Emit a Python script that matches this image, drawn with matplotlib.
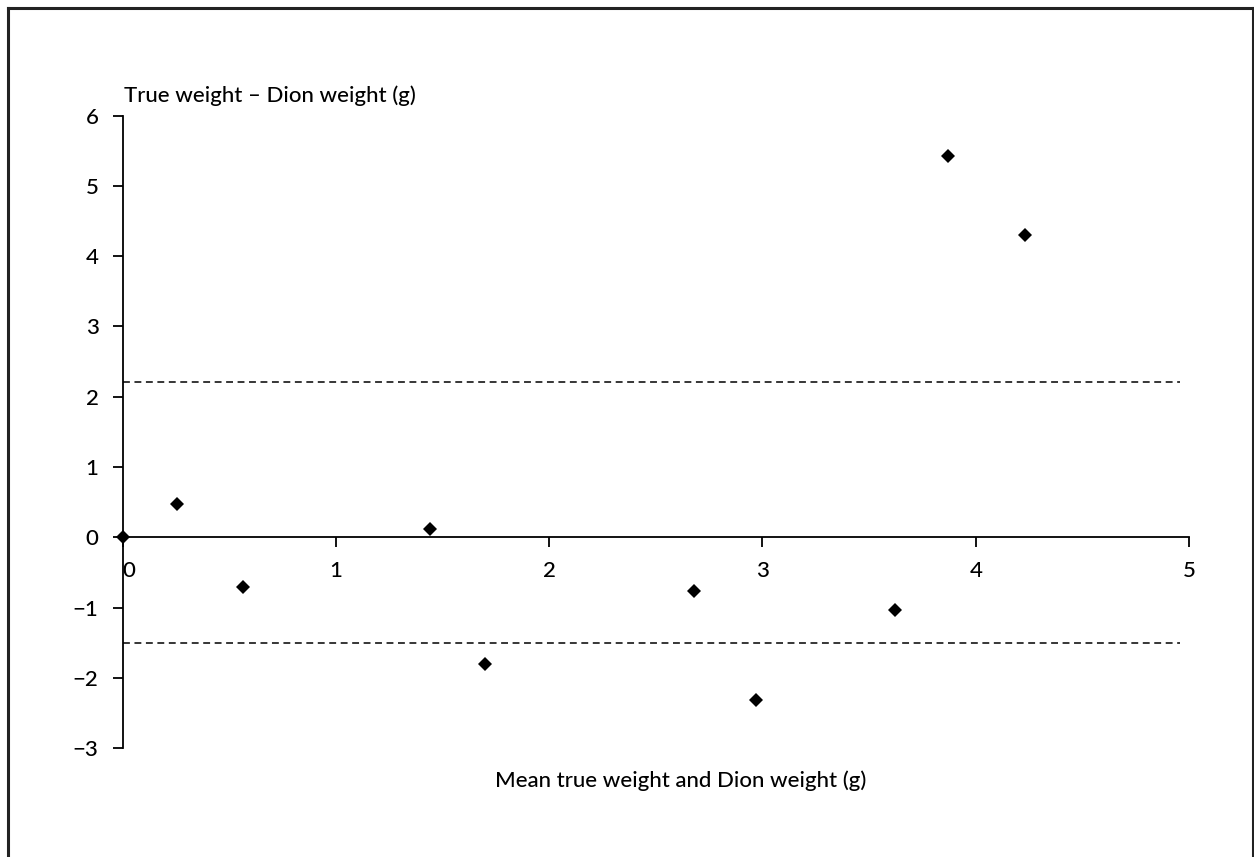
"""
Bland-Altman style plot: difference between true weight and Dion weight
against their mean, with the limits of agreement drawn as dashed lines.
"""

import matplotlib
matplotlib.use("Agg")
import matplotlib.pyplot as plt
from matplotlib.lines import Line2D

plt.rcParams['font.family'] = ['Lato', 'DejaVu Sans']
plt.rcParams['font.weight'] = 'medium'

# mean of true weight and Dion weight (g)
mean_weight = [0.0, 0.255, 0.563, 1.44, 1.70, 2.68, 2.97, 3.62, 3.87, 4.23]
# true weight minus Dion weight (g)
diff_weight = [0.0, 0.48, -0.71, 0.12, -1.80, -0.77, -2.32, -1.03, 5.42, 4.30]

upper_limit = 2.21
lower_limit = -1.50

x_ticks = [0, 1, 2, 3, 4, 5]
y_ticks = [-3, -2, -1, 0, 1, 2, 3, 4, 5, 6]

W, H = 1254, 857
fig = plt.figure(figsize=(W / 100, H / 100), dpi=100)

# axes box placed so that x runs 0..5 and y runs -3..6
ax = fig.add_axes([122.5 / W, 1 - 748.2 / H, (1189 - 122.5) / W, (748.2 - 115.5) / H])
ax.set_xlim(0, 5)
ax.set_ylim(-3, 6)

ax.plot(mean_weight, diff_weight, linestyle='none', marker='D', markersize=6.8,
        color='black', markeredgewidth=0, clip_on=False, zorder=5)

for lim in (upper_limit, lower_limit):
    ax.hlines(lim, 0, 4.96, colors='black', linewidth=1.1, linestyles=(0, (4.5, 3)))

ax.spines['top'].set_visible(False)
ax.spines['right'].set_visible(False)
ax.spines['bottom'].set_position(('data', 0))
for s in ('left', 'bottom'):
    ax.spines[s].set_linewidth(1.3)

ax.set_xticks(x_ticks)
ax.set_yticks(y_ticks)
ax.set_xticklabels([str(t) for t in x_ticks])
ax.set_yticklabels([str(t).replace('-', '\u2212') for t in y_ticks])
ax.tick_params(axis='both', direction='out', length=7.2, width=1.3, labelsize=16)
ax.tick_params(axis='x', pad=10)
ax.tick_params(axis='y', pad=10)

# the "0" on the x axis sits just right of the y axis
zero_label = ax.get_xticklabels()[0]
zero_label.set_horizontalalignment('left')
zero_label.set_x(0.012)

fig.text(124 / W, 1 - 102 / H, 'True weight \u2013 Dion weight (g)', fontsize=16,
         ha='left', va='baseline')
fig.text(681 / W, 1 - 787 / H, 'Mean true weight and Dion weight (g)', fontsize=16,
         ha='center', va='baseline')

# open frame around the figure (no bottom edge)
frame_kw = dict(color='#222222', linewidth=2.2, transform=fig.transFigure)
fig.add_artist(Line2D([8 / W, 8 / W], [0, 1 - 8 / H], **frame_kw))
fig.add_artist(Line2D([8 / W, 1252.5 / W], [1 - 8 / H, 1 - 8 / H], **frame_kw))
fig.add_artist(Line2D([1252.5 / W, 1252.5 / W], [0, 1 - 8 / H], **frame_kw))

fig.savefig('out.png', dpi=100, facecolor='white')
